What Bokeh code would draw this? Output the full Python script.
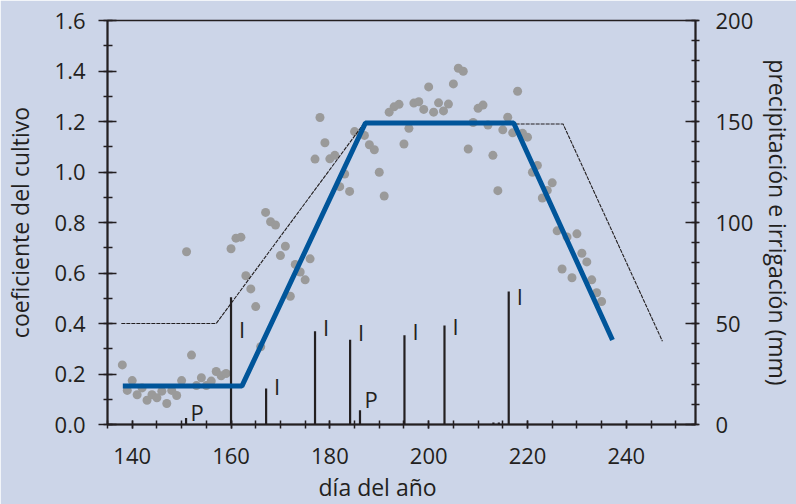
from bokeh.plotting import figure
from bokeh.models import Range1d, LinearAxis, SingleIntervalTicker, Title, PrintfTickFormatter, ColumnDataSource
from bokeh.core.properties import value
from bokeh.embed import file_html
from bokeh.resources import INLINE

# ---- data ----
obs_days = [138, 139, 140, 141, 142, 143, 144, 145, 146, 147, 148, 149, 150, 151, 152, 153, 154, 155,
            156, 157, 158, 159, 160, 161, 162, 163, 164, 165, 166, 167, 168, 169, 170, 171, 172, 173,
            174, 175, 176, 177, 178, 179, 180, 181, 182, 183, 184, 185, 187, 188, 189, 190, 191, 192,
            193, 194, 195, 196, 197, 198, 199, 200, 201, 202, 203, 204, 205, 206, 207, 208, 209, 210,
            211, 212, 213, 214, 215, 216, 217, 218, 219, 220, 221, 222, 223, 224, 225, 226, 227, 228,
            229, 230, 231, 232, 233, 234, 235]
obs_kc = [0.236, 0.135, 0.174, 0.118, 0.145, 0.096, 0.118, 0.106, 0.132, 0.083, 0.135, 0.115, 0.174,
          0.684, 0.275, 0.154, 0.185, 0.154, 0.172, 0.210, 0.193, 0.202, 0.696, 0.738, 0.742, 0.589,
          0.537, 0.467, 0.308, 0.840, 0.803, 0.790, 0.669, 0.706, 0.508, 0.634, 0.604, 0.573, 0.656,
          1.051, 1.216, 1.116, 1.052, 1.066, 0.942, 0.992, 0.923, 1.160, 1.145, 1.108, 1.088, 0.999,
          0.905, 1.237, 1.258, 1.268, 1.111, 1.173, 1.273, 1.278, 1.248, 1.337, 1.237, 1.274, 1.242,
          1.269, 1.349, 1.411, 1.399, 1.091, 1.196, 1.252, 1.265, 1.186, 1.066, 0.926, 1.167, 1.217,
          1.155, 1.320, 1.153, 1.138, 0.999, 1.026, 0.897, 0.927, 0.957, 0.767, 0.616, 0.743, 0.581,
          0.755, 0.678, 0.644, 0.573, 0.522, 0.487]

fit_days = [138.1, 162.2, 187.2, 217.2, 237.2]
fit_kc = [0.152, 0.152, 1.194, 1.194, 0.335]

ref_days = [137.8, 157.0, 186.8, 227.2, 247.3]
ref_kc = [0.40, 0.40, 1.19, 1.19, 0.33]

water_days = [150.9, 160.0, 167.1, 177.0, 184.1, 186.1, 195.1, 203.2, 213.1, 214.2, 216.2]
water_mm = [3.2, 63.0, 17.8, 46.2, 42.0, 7.1, 44.2, 49.0, 1.0, 1.0, 65.8]
water_type = ["P", "I", "I", "I", "I", "P", "I", "I", "", "", "I"]
label_mm = [6.2, 47.3, 19.0, 48.1, 45.7, 12.4, 46.4, 48.7, 0, 0, 63.8]

BG = "#ccd5e8"
DARK = "#231f20"
FONT = "Open Sans"

p = figure(frame_width=588, frame_height=404, x_range=Range1d(135, 254), y_range=Range1d(0, 1.6),
           output_backend="svg", toolbar_location=None,
           min_border_left=104, min_border_right=80, min_border_top=20, min_border_bottom=60,
           background_fill_color=BG, border_fill_color=BG,
           outline_line_color=DARK, outline_line_width=1.5)
p.grid.visible = False
p.extra_y_ranges = {"mm": Range1d(0, 200)}

# x axis
xa = p.xaxis[0]
xa.ticker = SingleIntervalTicker(interval=20, num_minor_ticks=4)
xa.major_tick_in = 4
xa.major_tick_out = 4
xa.minor_tick_in = 4
xa.minor_tick_out = 4
xa.major_label_standoff = 19

# left axis
ya = p.yaxis[0]
ya.ticker = SingleIntervalTicker(interval=0.2, num_minor_ticks=2)
ya.formatter = PrintfTickFormatter(format="%.1f")
ya.major_tick_in = 9
ya.major_tick_out = 9
ya.minor_tick_in = 5
ya.minor_tick_out = 4
ya.major_label_standoff = 13
ya.axis_label = "coeficiente del cultivo"
ya.axis_label_standoff = 16

# right axis
ra = LinearAxis(y_range_name="mm", ticker=SingleIntervalTicker(interval=50, num_minor_ticks=5),
                axis_label="precipitación e irrigación (mm)")
ra.major_tick_in = 10
ra.major_tick_out = 3
ra.minor_tick_in = 4
ra.minor_tick_out = 4
ra.major_label_standoff = 16
ra.axis_label_standoff = 6
p.add_layout(ra, "right")

for ax in [xa, ya, ra]:
    ax.axis_line_color = DARK
    ax.axis_line_width = 2
    ax.major_tick_line_color = DARK
    ax.minor_tick_line_color = DARK
    ax.major_tick_line_width = 1.5
    ax.minor_tick_line_width = 1.5
    ax.major_label_text_font = FONT
    ax.major_label_text_font_size = "22px"
    ax.major_label_text_color = DARK
    ax.axis_label_text_font = FONT
    ax.axis_label_text_font_size = "23px"
    ax.axis_label_text_font_style = "normal"
    ax.axis_label_text_color = DARK

p.add_layout(Title(text="día del año", text_font=FONT, text_font_size="23px",
                   text_font_style="normal", text_color=DARK, align="left", offset=211,
                   standoff=4), "below")

# scatter of observed Kc
p.scatter(obs_days, obs_kc, size=9, color="#9a9a9a", line_color=None)

# water bars
wsrc = ColumnDataSource(dict(x=water_days, y=water_mm, t=water_type, ly=label_mm))
p.segment(x0="x", y0=0, x1="x", y1="y", source=wsrc, y_range_name="mm",
          line_color=DARK, line_width=2.2)
lab = ColumnDataSource(dict(x=[d for d, t in zip(water_days, water_type) if t],
                            y=[m for m, t in zip(label_mm, water_type) if t],
                            t=[t for t in water_type if t]))
p.text(x="x", y="y", text="t", source=lab, y_range_name="mm", x_offset=11,
       text_font=value(FONT), text_font_size="22px", text_color=DARK,
       text_align="center", text_baseline="middle")

# reference Kc line (thin)
p.line(ref_days, ref_kc, line_color=DARK, line_width=1.1, line_dash="4 1")
# fitted Kc line (blue)
p.line(fit_days, fit_kc, line_color="#00559a", line_width=5)

open("out.html", "w").write(file_html(p, INLINE))
